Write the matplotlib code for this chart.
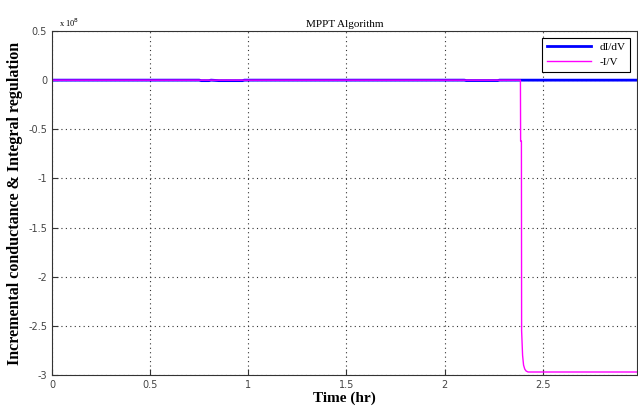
import matplotlib
matplotlib.use('Agg')
import matplotlib.pyplot as plt
from matplotlib.ticker import FuncFormatter

## data (time in hours, values in A/V)
didv_time = [0, 0.75, 0.76, 0.80, 0.81, 0.85, 0.86, 0.97, 0.98, 2.10, 2.11, 2.27, 2.28, 2.98]
didv_vals = [0, 0, -0.005e8, -0.005e8, 0, -0.005e8, -0.005e8, -0.005e8, 0, 0, -0.004e8, -0.004e8, 0, 0]

iv_time = [0, 2.386, 2.387, 2.391, 2.392, 2.397, 2.402, 2.408, 2.415, 2.425, 2.98]
iv_vals = [0, 0, -0.62e8, -0.62e8, -2.55e8, -2.80e8, -2.90e8, -2.94e8, -2.96e8, -2.97e8, -2.97e8]

x_ticks = [0, 0.5, 1, 1.5, 2, 2.5]
y_ticks = [0.5e8, 0, -0.5e8, -1e8, -1.5e8, -2e8, -2.5e8, -3e8]

plt.rcParams['axes.unicode_minus'] = False

fig = plt.figure(figsize=(6.38, 4.08), dpi=100)
ax = fig.add_axes([0.0815, 0.081, 0.917, 0.843])

ax.plot(didv_time, didv_vals, color='#0000ff', linewidth=2, label='dI/dV')
ax.plot(iv_time, iv_vals, color='#ff00ff', linewidth=1, label='-I/V')

ax.set_xlim(0, 2.98)
ax.set_ylim(-3e8, 0.5e8)
ax.set_xticks(x_ticks)
ax.set_yticks(y_ticks)
ax.yaxis.set_major_formatter(FuncFormatter(lambda v, p: '%g' % (v / 1e8)))
ax.xaxis.set_major_formatter(FuncFormatter(lambda v, p: '%g' % v))
ax.tick_params(direction='in', labelsize=7, labelcolor='#444444', length=4, color='#333333')
ax.grid(True, linestyle=(0, (1, 3)), color='#333333', linewidth=0.8)

for s in ax.spines.values():
    s.set_color('#333333')

ax.text(0.012, 1.005, r'x 10$^8$', transform=ax.transAxes, fontsize=6,
        family='Liberation Serif', va='bottom')
ax.set_title('MPPT Algorithm', fontsize=8, family='Liberation Serif', pad=3)
ax.set_xlabel('Time (hr)', fontsize=11, fontweight='bold', family='Liberation Serif')
ax.set_ylabel('Incremental conductance & Integral regulation', fontsize=11.5,
              fontweight='bold', family='Liberation Serif')
ax.xaxis.set_label_coords(0.5, -0.048)
ax.yaxis.set_label_coords(-0.05, 0.5)

leg = ax.legend(loc='upper right', prop={'family': 'Liberation Serif', 'size': 8},
                fancybox=False, edgecolor='black', framealpha=1, borderaxespad=0.6,
                handlelength=4)
leg.get_frame().set_linewidth(0.8)

fig.savefig('out.png', dpi=100)
